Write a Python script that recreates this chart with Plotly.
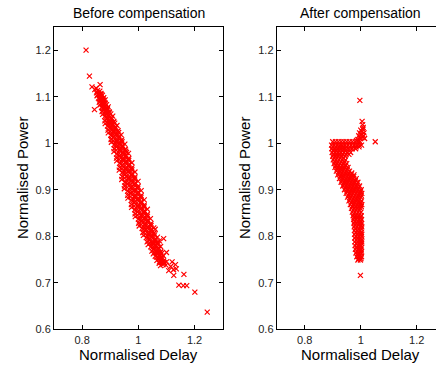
import plotly.graph_objects as go

# ---------------- data ----------------
before_points = [
    # main band, row by row (delay, power)
    (0.851,1.108),(0.855,1.113),(0.859,1.106),(0.863,1.112),(0.867,1.107),
    (0.853,1.102),(0.858,1.097),(0.863,1.104),(0.867,1.099),(0.872,1.103),(0.877,1.098),
    (0.861,1.088),(0.866,1.093),(0.871,1.086),(0.876,1.092),(0.881,1.087),
    (0.863,1.082),(0.869,1.077),(0.875,1.084),(0.881,1.079),(0.887,1.083),(0.893,1.078),
    (0.871,1.068),(0.878,1.073),(0.884,1.066),(0.890,1.072),(0.897,1.067),
    (0.873,1.062),(0.880,1.057),(0.887,1.064),(0.895,1.059),(0.902,1.063),(0.909,1.058),
    (0.881,1.048),(0.889,1.053),(0.897,1.046),(0.905,1.052),(0.913,1.047),
    (0.882,1.042),(0.890,1.037),(0.899,1.044),(0.907,1.039),(0.916,1.043),(0.924,1.038),
    (0.892,1.028),(0.901,1.033),(0.910,1.026),(0.919,1.032),(0.928,1.027),
    (0.893,1.022),(0.902,1.017),(0.911,1.024),(0.921,1.019),(0.930,1.023),(0.939,1.018),
    (0.903,1.008),(0.912,1.013),(0.922,1.006),(0.932,1.012),(0.941,1.007),
    (0.904,1.002),(0.914,0.997),(0.923,1.004),(0.933,0.999),(0.942,1.003),(0.952,0.998),
    (0.914,0.988),(0.924,0.993),(0.934,0.986),(0.944,0.992),(0.954,0.987),
    (0.913,0.982),(0.923,0.977),(0.934,0.984),(0.944,0.979),(0.955,0.983),(0.965,0.978),
    (0.922,0.968),(0.933,0.973),(0.944,0.966),(0.955,0.972),(0.966,0.967),
    (0.923,0.962),(0.934,0.957),(0.945,0.964),(0.955,0.959),(0.966,0.963),(0.977,0.958),
    (0.933,0.948),(0.944,0.953),(0.955,0.946),(0.966,0.952),(0.977,0.947),
    (0.932,0.942),(0.943,0.937),(0.954,0.944),(0.966,0.939),(0.977,0.943),(0.988,0.938),
    (0.942,0.928),(0.953,0.933),(0.965,0.926),(0.977,0.932),(0.988,0.927),
    (0.941,0.922),(0.953,0.917),(0.964,0.924),(0.976,0.919),(0.987,0.923),(0.999,0.918),
    (0.951,0.908),(0.963,0.913),(0.975,0.906),(0.987,0.912),(0.999,0.907),
    (0.950,0.902),(0.962,0.897),(0.974,0.904),(0.986,0.899),(0.998,0.903),(1.010,0.898),
    (0.962,0.888),(0.974,0.893),(0.986,0.886),(0.998,0.892),(1.010,0.887),
    (0.963,0.882),(0.975,0.877),(0.986,0.884),(0.998,0.879),(1.009,0.883),(1.021,0.878),
    (0.975,0.868),(0.986,0.873),(0.998,0.866),(1.010,0.872),(1.021,0.867),
    (0.976,0.862),(0.987,0.857),(0.998,0.864),(1.010,0.859),(1.021,0.863),(1.032,0.858),
    (0.988,0.848),(0.999,0.853),(1.010,0.846),(1.021,0.852),(1.032,0.847),
    (0.989,0.842),(1.000,0.837),(1.011,0.844),(1.021,0.839),(1.032,0.843),(1.043,0.838),
    (1.001,0.828),(1.012,0.833),(1.023,0.826),(1.034,0.832),(1.045,0.827),
    (1.003,0.822),(1.013,0.817),(1.024,0.824),(1.034,0.819),(1.045,0.823),(1.055,0.818),
    (1.016,0.808),(1.026,0.813),(1.036,0.806),(1.046,0.812),(1.056,0.807),
    (1.018,0.802),(1.028,0.797),(1.038,0.804),(1.048,0.799),(1.058,0.803),(1.068,0.798),
    (1.031,0.788),(1.040,0.793),(1.050,0.786),(1.060,0.792),(1.069,0.787),
    (1.035,0.782),(1.044,0.777),(1.053,0.784),(1.061,0.779),(1.070,0.783),(1.079,0.778),
    (1.048,0.768),(1.056,0.773),(1.064,0.766),(1.072,0.772),(1.080,0.767),
    (1.053,0.762),(1.060,0.757),(1.067,0.764),(1.075,0.759),(1.082,0.763),(1.089,0.758),
    (1.066,0.748),(1.072,0.753),(1.078,0.746),(1.084,0.752),(1.090,0.747),
    (1.074,0.742),(1.079,0.737),(1.084,0.744),(1.088,0.739),(1.093,0.743),(1.098,0.738),
    # in-between rows (dense core)
    (0.856,1.105),(0.860,1.105),(0.864,1.105),(0.868,1.105),
    (0.861,1.095),(0.866,1.095),(0.870,1.095),(0.875,1.095),
    (0.867,1.085),(0.872,1.085),(0.877,1.085),(0.882,1.085),
    (0.872,1.075),(0.878,1.075),(0.884,1.075),(0.890,1.075),
    (0.878,1.065),(0.884,1.065),(0.891,1.065),(0.897,1.065),
    (0.884,1.055),(0.891,1.055),(0.897,1.055),(0.904,1.055),
    (0.889,1.045),(0.896,1.045),(0.904,1.045),(0.911,1.045),
    (0.895,1.035),(0.903,1.035),(0.910,1.035),(0.918,1.035),
    (0.901,1.025),(0.909,1.025),(0.917,1.025),(0.925,1.025),
    (0.906,1.015),(0.915,1.015),(0.923,1.015),(0.932,1.015),
    (0.912,1.005),(0.921,1.005),(0.929,1.005),(0.938,1.005),
    (0.918,0.995),(0.927,0.995),(0.935,0.995),(0.944,0.995),
    (0.922,0.985),(0.932,0.985),(0.941,0.985),(0.951,0.985),
    (0.927,0.975),(0.937,0.975),(0.946,0.975),(0.956,0.975),
    (0.932,0.965),(0.942,0.965),(0.952,0.965),(0.962,0.965),
    (0.937,0.955),(0.948,0.955),(0.957,0.955),(0.968,0.955),
    (0.942,0.945),(0.952,0.945),(0.963,0.945),(0.973,0.945),
    (0.947,0.935),(0.957,0.935),(0.968,0.935),(0.978,0.935),
    (0.952,0.925),(0.962,0.925),(0.973,0.925),(0.983,0.925),
    (0.956,0.915),(0.967,0.915),(0.978,0.915),(0.989,0.915),
    (0.961,0.905),(0.972,0.905),(0.983,0.905),(0.994,0.905),
    (0.967,0.895),(0.978,0.895),(0.988,0.895),(0.999,0.895),
    (0.973,0.885),(0.984,0.885),(0.994,0.885),(1.005,0.885),
    (0.979,0.875),(0.990,0.875),(1.000,0.875),(1.011,0.875),
    (0.985,0.865),(0.996,0.865),(1.006,0.865),(1.017,0.865),
    (0.992,0.855),(1.002,0.855),(1.012,0.855),(1.022,0.855),
    (0.998,0.845),(1.008,0.845),(1.018,0.845),(1.028,0.845),
    (1.005,0.835),(1.015,0.835),(1.024,0.835),(1.034,0.835),
    (1.011,0.825),(1.021,0.825),(1.031,0.825),(1.041,0.825),
    (1.018,0.815),(1.028,0.815),(1.037,0.815),(1.047,0.815),
    (1.026,0.805),(1.035,0.805),(1.044,0.805),(1.053,0.805),
    (1.033,0.795),(1.042,0.795),(1.051,0.795),(1.060,0.795),
    (1.041,0.785),(1.049,0.785),(1.058,0.785),(1.066,0.785),
    (1.049,0.775),(1.057,0.775),(1.064,0.775),(1.072,0.775),
    (1.057,0.765),(1.064,0.765),(1.071,0.765),(1.078,0.765),
    (1.065,0.755),(1.071,0.755),(1.078,0.755),(1.084,0.755),
    (1.075,0.745),(1.080,0.745),(1.084,0.745),(1.089,0.745),
    # stragglers and outliers
    (0.814,1.200),(0.826,1.144),(0.835,1.121),(0.864,1.126),(0.844,1.072),(0.882,1.093),
    (0.845,1.115),(0.850,1.118),(0.958,0.980),(1.060,0.815),(1.075,0.790),(1.090,0.795),
    (1.100,0.765),(1.100,0.745),(1.115,0.735),(1.125,0.728),(1.132,0.739),(1.126,0.716),
    (1.108,0.726),(1.120,0.745),(1.135,0.730),(1.162,0.718),(1.144,0.695),(1.160,0.694),
    (1.172,0.694),(1.201,0.680),(1.245,0.637),
]

after_points = [
    # top plateau
    (0.900,1.003),(0.910,1.003),(0.920,1.003),(0.930,1.003),(0.940,1.003),(0.950,1.003),
    (0.960,1.003),(0.970,1.003),(0.980,1.003),(0.990,1.003),(0.998,1.003),
    (0.896,0.996),(0.905,0.996),(0.915,0.996),(0.925,0.996),(0.935,0.996),(0.945,0.996),
    (0.955,0.996),(0.965,0.996),(0.975,0.996),(0.985,0.996),(0.995,0.996),(1.003,0.996),
    (0.900,0.992),(0.912,0.992),(0.924,0.992),(0.936,0.992),(0.948,0.992),(0.960,0.992),
    (0.972,0.992),(0.984,0.992),(0.994,0.992),
    (0.897,0.988),(0.906,0.988),(0.916,0.988),(0.926,0.988),(0.936,0.988),(0.946,0.988),
    (0.958,0.988),(0.970,0.988),(0.982,0.988),
    # descending band
    (0.902,0.984),(0.913,0.984),(0.923,0.984),(0.934,0.984),(0.945,0.984),
    (0.898,0.980),(0.908,0.980),(0.918,0.980),(0.928,0.980),(0.940,0.980),(0.952,0.980),(0.964,0.980),
    (0.903,0.976),(0.914,0.976),(0.924,0.976),(0.936,0.976),(0.948,0.976),(0.958,0.976),
    (0.900,0.972),(0.910,0.972),(0.920,0.972),(0.932,0.972),(0.944,0.972),
    (0.905,0.968),(0.916,0.968),(0.927,0.968),(0.938,0.968),
    (0.902,0.964),(0.912,0.964),(0.922,0.964),(0.934,0.964),(0.946,0.964),
    (0.907,0.960),(0.918,0.960),(0.930,0.960),(0.942,0.960),
    (0.905,0.956),(0.915,0.956),(0.926,0.956),(0.938,0.956),(0.950,0.956),
    (0.911,0.952),(0.922,0.952),(0.934,0.952),(0.946,0.952),
    (0.908,0.948),(0.918,0.948),(0.930,0.948),(0.942,0.948),(0.955,0.948),
    (0.916,0.944),(0.928,0.944),(0.940,0.944),(0.952,0.944),
    (0.913,0.940),(0.924,0.940),(0.936,0.940),(0.948,0.940),(0.960,0.940),
    (0.921,0.936),(0.933,0.936),(0.945,0.936),(0.957,0.936),(0.968,0.936),
    (0.918,0.932),(0.930,0.932),(0.942,0.932),(0.954,0.932),(0.966,0.932),(0.976,0.932),
    (0.927,0.928),(0.939,0.928),(0.951,0.928),(0.963,0.928),(0.975,0.928),
    (0.924,0.924),(0.936,0.924),(0.948,0.924),(0.960,0.924),(0.972,0.924),(0.984,0.924),
    (0.933,0.920),(0.945,0.920),(0.957,0.920),(0.969,0.920),(0.981,0.920),
    (0.930,0.916),(0.942,0.916),(0.954,0.916),(0.966,0.916),(0.978,0.916),(0.990,0.916),
    (0.939,0.912),(0.951,0.912),(0.963,0.912),(0.975,0.912),(0.987,0.912),
    (0.936,0.908),(0.948,0.908),(0.960,0.908),(0.972,0.908),(0.984,0.908),(0.996,0.908),
    (0.945,0.904),(0.957,0.904),(0.969,0.904),(0.981,0.904),(0.993,0.904),
    (0.942,0.900),(0.954,0.900),(0.966,0.900),(0.978,0.900),(0.990,0.900),(1.002,0.900),
    (0.951,0.896),(0.963,0.896),(0.975,0.896),(0.987,0.896),(0.999,0.896),
    (0.948,0.892),(0.960,0.892),(0.972,0.892),(0.984,0.892),(0.996,0.892),(1.004,0.892),
    (0.956,0.888),(0.968,0.888),(0.980,0.888),(0.992,0.888),(1.002,0.888),
    (0.953,0.884),(0.965,0.884),(0.977,0.884),(0.989,0.884),(1.000,0.884),
    (0.961,0.880),(0.973,0.880),(0.985,0.880),(0.996,0.880),
    (0.958,0.876),(0.970,0.876),(0.982,0.876),(0.993,0.876),(1.003,0.876),
    (0.966,0.872),(0.978,0.872),(0.990,0.872),(1.000,0.872),
    (0.963,0.868),(0.975,0.868),(0.987,0.868),(0.997,0.868),(1.004,0.868),
    (0.970,0.864),(0.981,0.864),(0.992,0.864),(1.002,0.864),
    (0.967,0.860),(0.978,0.860),(0.989,0.860),(0.999,0.860),
    (0.973,0.856),(0.984,0.856),(0.995,0.856),
    (0.970,0.852),(0.980,0.852),(0.991,0.852),(1.001,0.852),
    (0.975,0.848),(0.986,0.848),(0.997,0.848),
    (0.973,0.844),(0.983,0.844),(0.993,0.844),(1.002,0.844),
    (0.976,0.840),(0.988,0.840),(0.998,0.840),
    (0.975,0.836),(0.985,0.836),(0.995,0.836),(1.003,0.836),
    (0.978,0.832),(0.990,0.832),(1.000,0.832),
    (0.976,0.828),(0.986,0.828),(0.996,0.828),(1.003,0.828),
    (0.979,0.824),(0.991,0.824),(1.001,0.824),
    (0.977,0.820),(0.987,0.820),(0.997,0.820),(1.004,0.820),
    (0.981,0.816),(0.993,0.816),(1.003,0.816),
    (0.978,0.812),(0.988,0.812),(0.998,0.812),
    (0.983,0.808),(0.993,0.808),(1.002,0.808),
    (0.978,0.804),(0.988,0.804),(0.998,0.804),(1.004,0.804),
    (0.983,0.800),(0.994,0.800),(1.003,0.800),
    (0.979,0.796),(0.989,0.796),(0.999,0.796),
    (0.984,0.792),(0.994,0.792),(1.003,0.792),
    (0.979,0.788),(0.989,0.788),(0.999,0.788),(1.004,0.788),
    (0.984,0.784),(0.995,0.784),(1.003,0.784),
    (0.980,0.780),(0.990,0.780),(1.000,0.780),
    (0.985,0.776),(0.995,0.776),(1.003,0.776),
    (0.981,0.772),(0.991,0.772),(1.001,0.772),
    (0.986,0.768),(0.996,0.768),(1.003,0.768),
    (0.983,0.764),(0.993,0.764),(1.002,0.764),
    (0.989,0.760),(0.998,0.760),
    (0.986,0.756),(0.995,0.756),(1.003,0.756),
    (0.993,0.752),(1.001,0.752),
    (0.990,0.749),(0.999,0.749),
    # hook rising at the right end of the plateau
    (0.985,1.006),(0.990,1.008),(0.998,1.010),(1.005,1.012),(1.014,1.010),(0.993,1.016),
    (1.002,1.018),(1.010,1.016),(0.996,1.022),(1.005,1.025),(1.012,1.022),(1.000,1.028),
    (1.008,1.030),(1.009,1.034),(1.007,1.040),(1.005,1.047),
    # outliers
    (0.997,1.092),(1.052,1.003),(0.999,0.716),
]

before_delay = [p[0] for p in before_points]
before_power = [p[1] for p in before_points]
after_delay = [p[0] for p in after_points]
after_power = [p[1] for p in after_points]

panel_titles = ["Before compensation", "After compensation"]
x_label = "Normalised Delay"
y_label = "Normalised Power"
x_ticks = [0.8, 1.0, 1.2]
y_ticks = [0.6, 0.7, 0.8, 0.9, 1.0, 1.1, 1.2]

# ---------------- figure ----------------
W, H = 436, 372
FONT = "Liberation Sans, Arial, Helvetica, sans-serif"

marker = dict(symbol="x-thin", size=5, color="#ff0000",
              line=dict(color="#ff0000", width=1.2))

fig = go.Figure()
fig.add_trace(go.Scatter(x=before_delay, y=before_power, mode="markers",
                         marker=marker, xaxis="x", yaxis="y",
                         showlegend=False, hoverinfo="skip"))
fig.add_trace(go.Scatter(x=after_delay, y=after_power, mode="markers",
                         marker=marker, xaxis="x2", yaxis="y2",
                         showlegend=False, hoverinfo="skip"))

def px_x(p):
    return p / W

def px_y(p):
    return 1 - p / H

y_dom = [px_y(334.7), px_y(27.3)]
left_dom = [px_x(54), px_x(222.7)]
right_dom = [px_x(276.7), 1.0]

axis_common = dict(showgrid=False, zeroline=False, ticks="inside", ticklen=4,
                   tickcolor="black", linecolor="black", linewidth=1, showline=True,
                   tickfont=dict(family=FONT, size=11, color="#222"))

fig.update_layout(
    width=W, height=H,
    margin=dict(l=0, r=0, t=0, b=0),
    paper_bgcolor="white", plot_bgcolor="white",
    font=dict(family=FONT, color="black"),
    xaxis=dict(domain=left_dom, range=[0.7, 1.3], tickvals=x_ticks,
               anchor="y", mirror="ticks", **axis_common),
    yaxis=dict(domain=y_dom, range=[0.6, 1.25], tickvals=y_ticks,
               anchor="x", mirror="ticks", **axis_common),
    xaxis2=dict(domain=right_dom, range=[0.7, 0.7 + (436 - 276.7) / 280],
                tickvals=x_ticks, anchor="y2", mirror="ticks", **axis_common),
    yaxis2=dict(domain=y_dom, range=[0.6, 1.25], tickvals=y_ticks,
                anchor="x2", mirror=False, **axis_common),
)

annotations = [
    dict(text=panel_titles[0], x=px_x(138.5), y=px_y(13), xanchor="center", yanchor="middle",
         font=dict(size=14)),
    dict(text=panel_titles[1], x=px_x(360.5), y=px_y(13), xanchor="center", yanchor="middle",
         font=dict(size=14)),
    dict(text=x_label, x=px_x(138.5), y=px_y(360), xanchor="center", yanchor="middle",
         font=dict(size=15)),
    dict(text=x_label, x=px_x(360.5), y=px_y(360), xanchor="center", yanchor="middle",
         font=dict(size=15)),
    dict(text=y_label, x=px_x(22), y=px_y(181), xanchor="center", yanchor="middle",
         textangle=-90, font=dict(size=15)),
    dict(text=y_label, x=px_x(244), y=px_y(181), xanchor="center", yanchor="middle",
         textangle=-90, font=dict(size=15)),
]
for a in annotations:
    a.update(xref="paper", yref="paper", showarrow=False)
    a["font"].update(family=FONT, color="black")
fig.update_layout(annotations=annotations)

fig.write_html("out.html")
